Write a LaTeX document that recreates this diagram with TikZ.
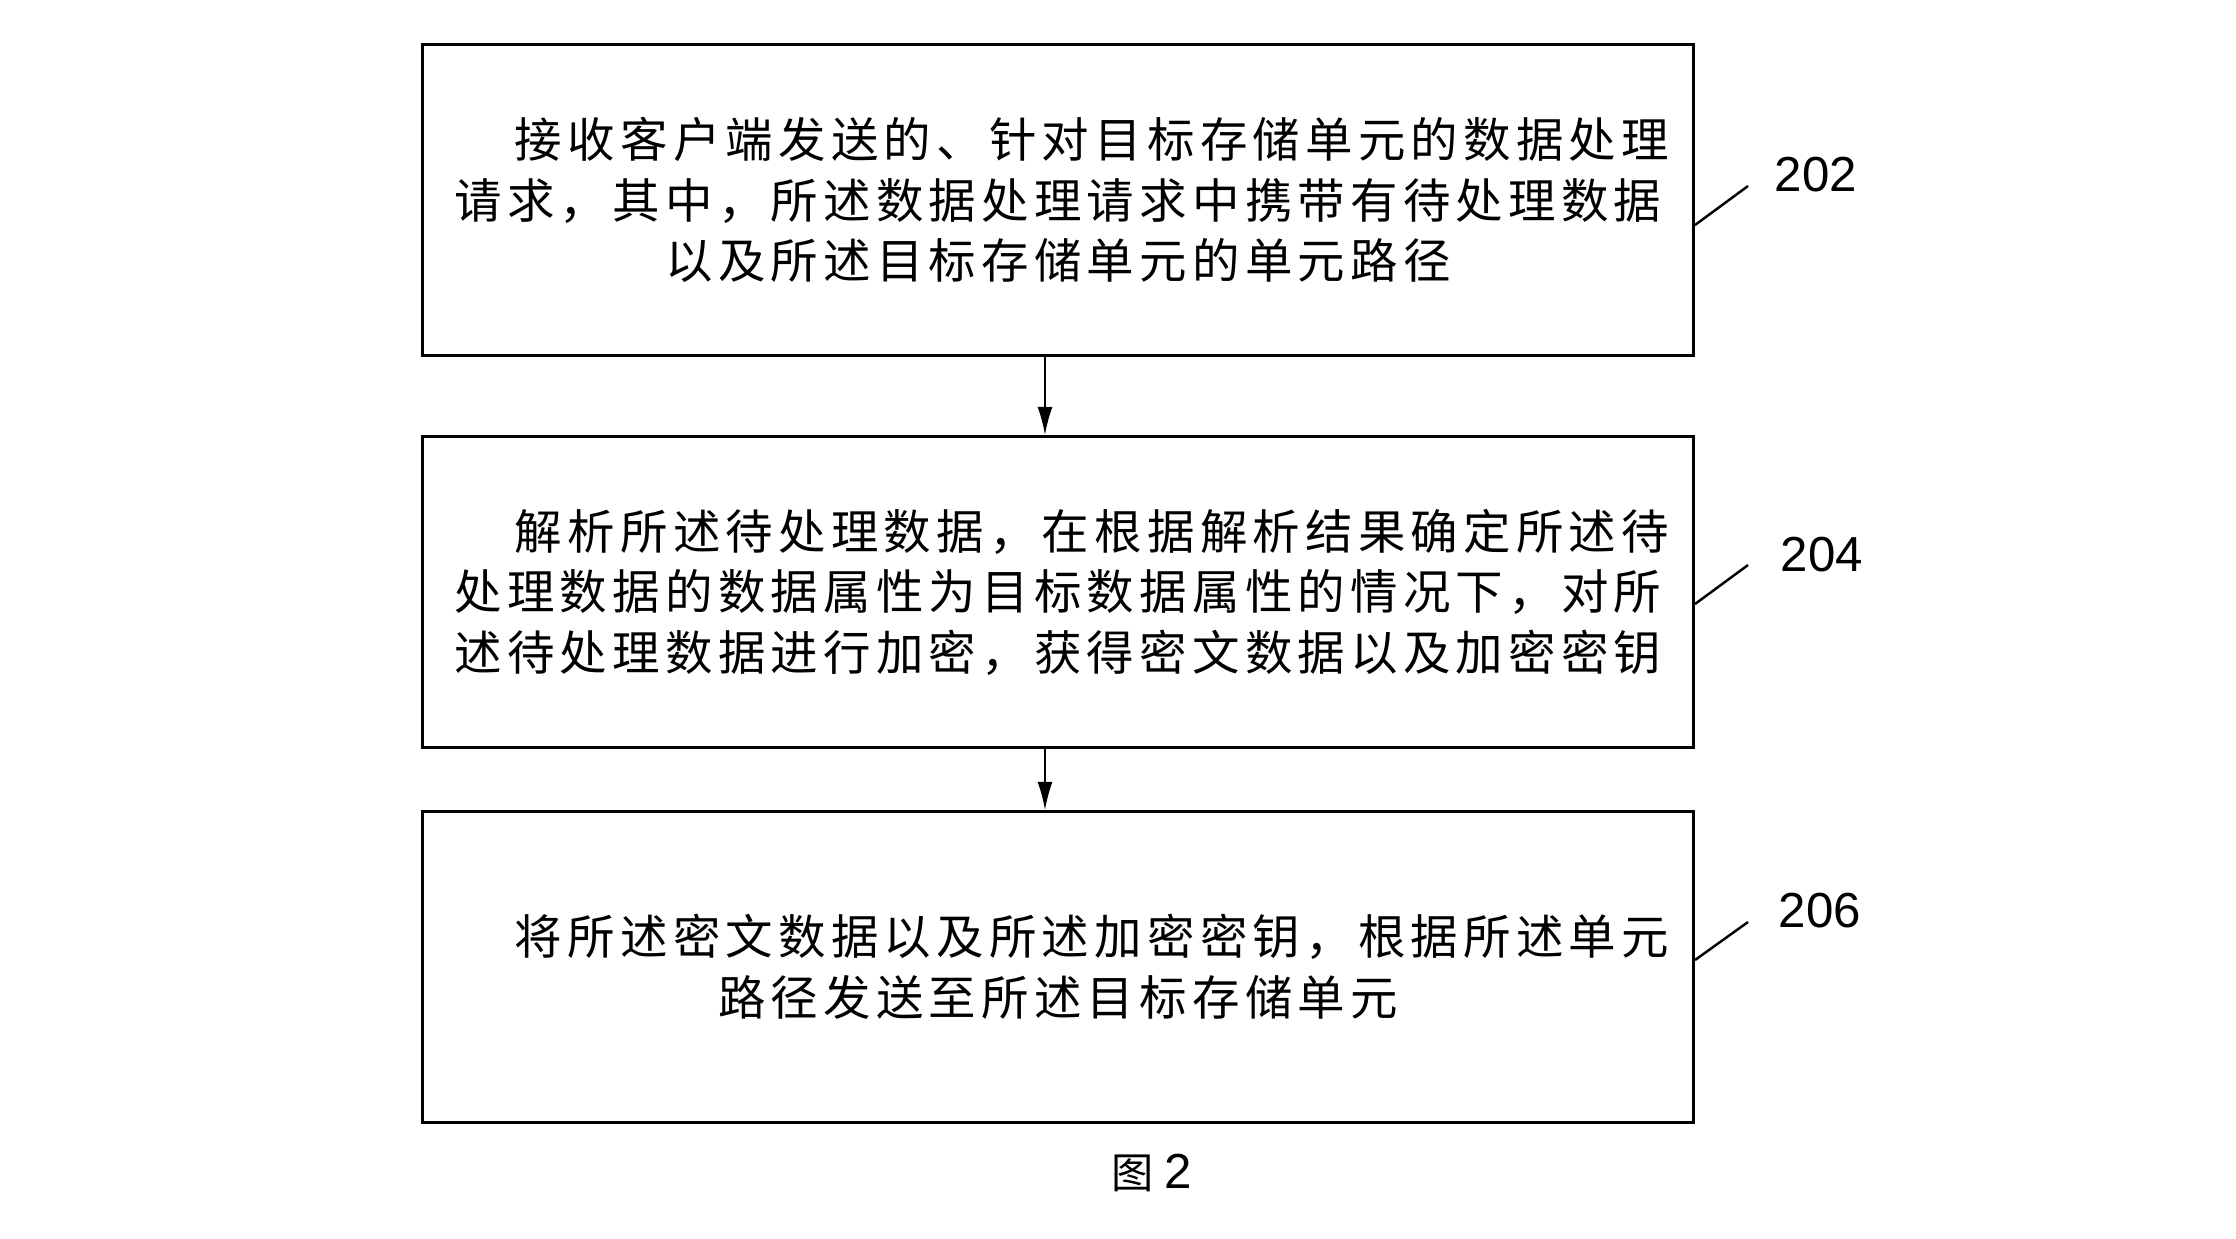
\documentclass[tikz,border=0pt]{standalone}
\usepackage{fontspec}
\usepackage{tikz}
\usetikzlibrary{arrows.meta}
\newfontfamily\cjkfont[LetterSpace=11]{Noto Sans CJK SC}
\newfontfamily\numfont{Liberation Sans}

\begin{document}
\begin{tikzpicture}[x=0.01cm, y=-0.01cm,
    stepbox/.style={draw, line width=0.9pt, minimum width=12.71cm,
        minimum height=3.11cm, inner sep=0pt, align=center,
        font=\cjkfont\fontsize{13.5pt}{17.2pt}\selectfont},
    flow/.style={line width=0.45pt, -{Latex[length=0.28cm, width=0.15cm]}},
    leader/.style={line width=0.7pt},
    refnum/.style={font=\numfont\fontsize{14pt}{16pt}\selectfont}]
    \useasboundingbox (0,0) rectangle (2236,1238);

    \node[stepbox] (S1) at (1058,200) {\hspace*{0.68cm}接收客户端发送的、针对目标存储单元的数据处理\\
        请求，其中，所述数据处理请求中携带有待处理数据\\
        以及所述目标存储单元的单元路径};
    \node[stepbox] (S2) at (1058,592) {\hspace*{0.68cm}解析所述待处理数据，在根据解析结果确定所述待\\
        处理数据的数据属性为目标数据属性的情况下，对所\\
        述待处理数据进行加密，获得密文数据以及加密密钥};
    \node[stepbox] (S3) at (1058,967) {\hspace*{0.68cm}将所述密文数据以及所述加密密钥，根据所述单元\\
        路径发送至所述目标存储单元};

    \draw[flow] ([xshift=-0.13cm]S1.south) -- ([xshift=-0.13cm]S2.north);
    \draw[flow] ([xshift=-0.13cm]S2.south) -- ([xshift=-0.13cm]S3.north);

    \coordinate (L1a) at (1695,225);
    \coordinate (L1b) at (1748,186);
    \coordinate (L2a) at (1695,604);
    \coordinate (L2b) at (1748,565);
    \coordinate (L3a) at (1695,960);
    \coordinate (L3b) at (1748,922);

    \draw[leader] (L1a) -- (L1b);
    \draw[leader] (L2a) -- (L2b);
    \draw[leader] (L3a) -- (L3b);

    \node[refnum] (N1) at (1816,175) {202};
    \node[refnum] (N2) at (1822,555) {204};
    \node[refnum] (N3) at (1820,911) {206};

    \node[font=\cjkfont\fontsize{12pt}{14pt}\selectfont] (fig) at (1152,1173) {图\hspace{3pt}{\numfont\fontsize{14pt}{16pt}\selectfont 2}};
\end{tikzpicture}
\end{document}
